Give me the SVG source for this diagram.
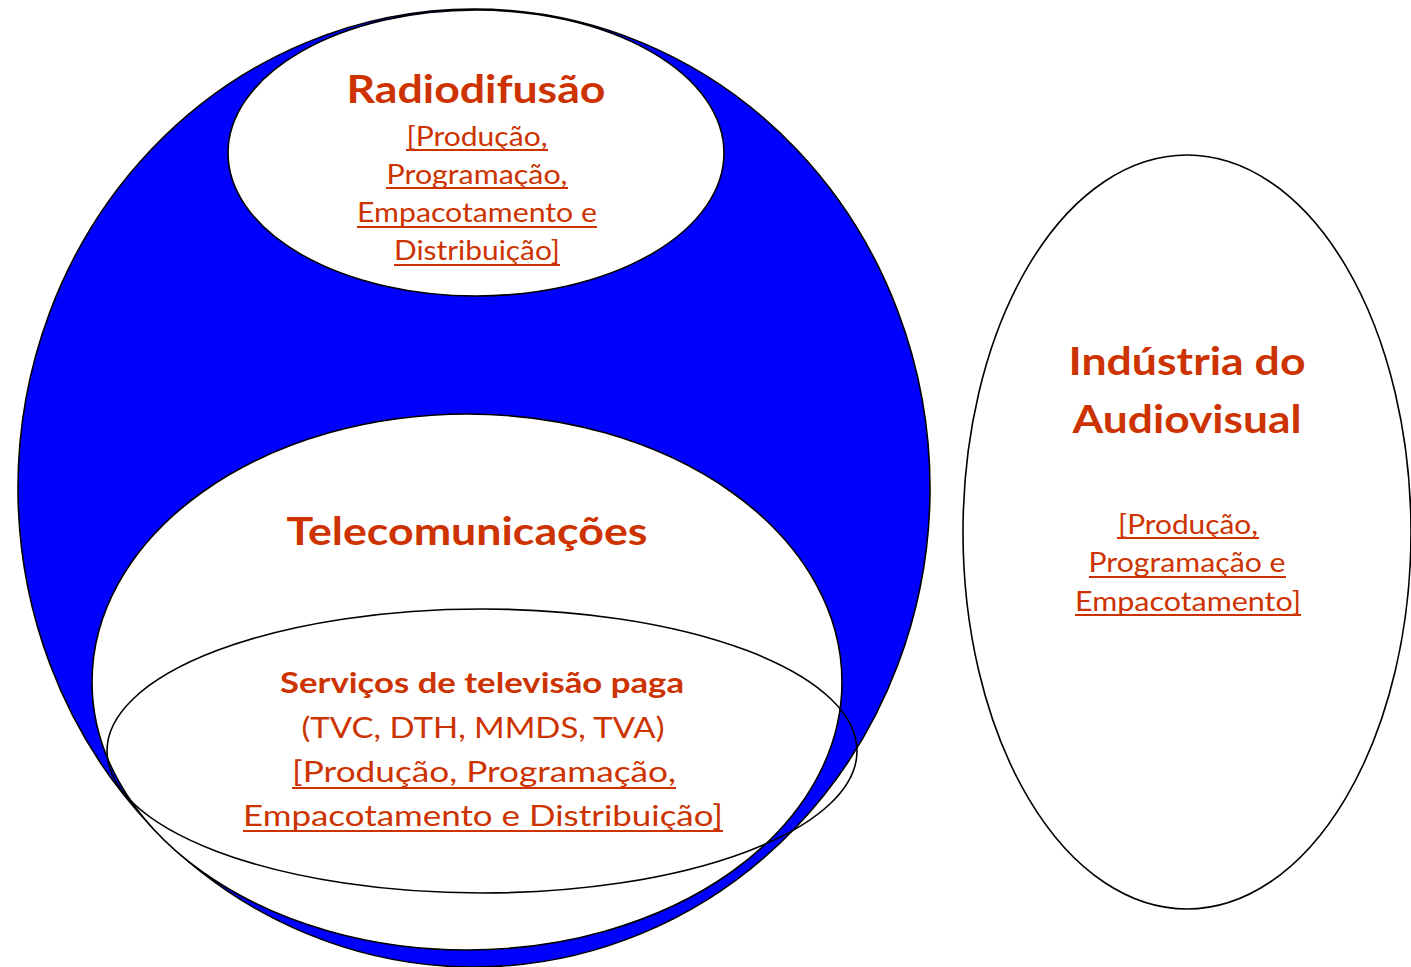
<svg xmlns="http://www.w3.org/2000/svg" width="1411" height="967" viewBox="0 0 1411 967">
<style>
.sh{stroke:#000;stroke-width:1.6}
.t{font-family:Lato,"Open Sans","Liberation Sans",sans-serif;fill:#cc3300;text-anchor:middle}
.h{font-weight:bold;font-size:39px}
.b{font-weight:bold;font-size:29px}
.r{font-size:29px}
.s{font-size:26px}
.ul{stroke:#cc3300;stroke-width:2;fill:none}
</style>
<rect width="1411" height="967" fill="#fff"/>
<g id="broadcast-outer">
<ellipse class="sh" cx="474" cy="488" rx="456" ry="479" fill="#0000ff"/>
</g>
<g id="radiodifusao">
<ellipse class="sh" cx="476" cy="153" rx="248" ry="143" fill="#fff"/>
<text class="t h" x="476" y="103" textLength="259" lengthAdjust="spacingAndGlyphs">Radiodifusão</text>
<text class="t s" x="477" y="146" textLength="141" lengthAdjust="spacingAndGlyphs">[Produção,</text>
<text class="t s" x="477" y="184" textLength="181" lengthAdjust="spacingAndGlyphs">Programação,</text>
<text class="t s" x="477" y="222" textLength="240" lengthAdjust="spacingAndGlyphs">Empacotamento e</text>
<text class="t s" x="477" y="260" textLength="166" lengthAdjust="spacingAndGlyphs">Distribuição]</text>
<path class="ul" d="M406 150H548M386 188H568M357 227H597M394 265H560"/>
</g>
<g id="telecomunicacoes">
<ellipse class="sh" cx="467" cy="682" rx="375" ry="268" fill="#fff"/>
<text class="t h" x="467" y="545" textLength="361" lengthAdjust="spacingAndGlyphs">Telecomunicações</text>
</g>
<g id="tv-paga">
<ellipse class="sh" cx="482" cy="751" rx="375" ry="142" fill="none"/>
<text class="t b" x="482" y="693" textLength="404" lengthAdjust="spacingAndGlyphs">Serviços de televisão paga</text>
<text class="t r" x="483" y="738" textLength="363" lengthAdjust="spacingAndGlyphs">(TVC, DTH, MMDS, TVA)</text>
<text class="t r" x="484" y="782" textLength="384" lengthAdjust="spacingAndGlyphs">[Produção, Programação,</text>
<text class="t r" x="483" y="826" textLength="480" lengthAdjust="spacingAndGlyphs">Empacotamento e Distribuição]</text>
<path class="ul" d="M292 788H676M243 831H723"/>
</g>
<g id="audiovisual">
<ellipse class="sh" cx="1187" cy="532" rx="224" ry="377" fill="#fff"/>
<text class="t h" x="1187" y="375" textLength="237" lengthAdjust="spacingAndGlyphs">Indústria do</text>
<text class="t h" x="1187" y="433" textLength="229" lengthAdjust="spacingAndGlyphs">Audiovisual</text>
<text class="t s" x="1188" y="534" textLength="140" lengthAdjust="spacingAndGlyphs">[Produção,</text>
<text class="t s" x="1187" y="572" textLength="197" lengthAdjust="spacingAndGlyphs">Programação e</text>
<text class="t s" x="1188" y="611" textLength="226" lengthAdjust="spacingAndGlyphs">Empacotamento]</text>
<path class="ul" d="M1117 538H1259M1089 577H1286M1075 615H1301"/>
</g>
<g id="connectors"></g>
</svg>
